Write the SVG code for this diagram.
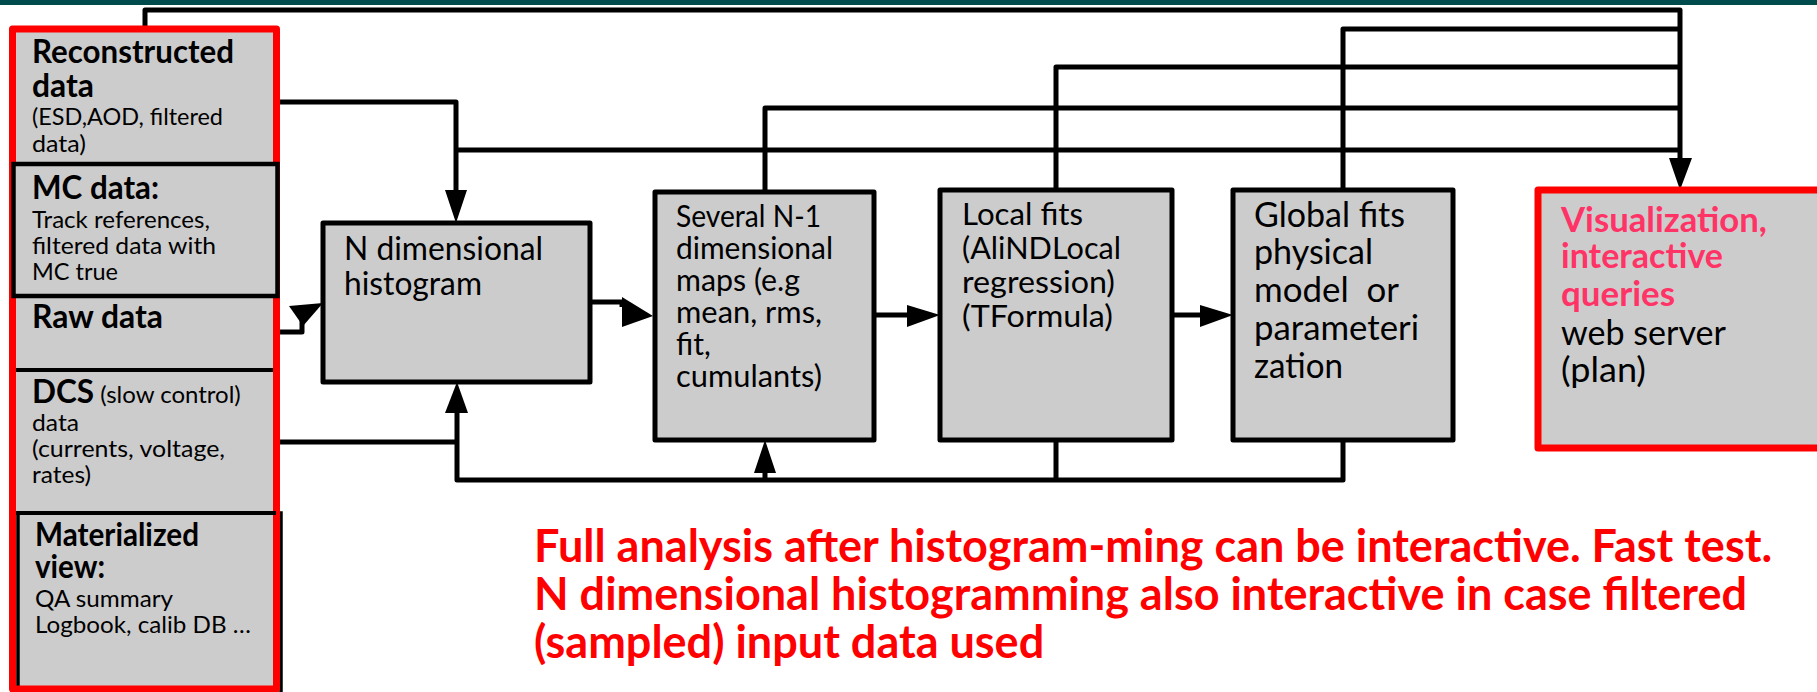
<svg xmlns="http://www.w3.org/2000/svg" width="1817" height="692" viewBox="0 0 1817 692">
<style>
text{font-family:Lato,"Open Sans","Liberation Sans",sans-serif;fill:#000}
.b{font-weight:bold}
.box{fill:#cccccc;stroke:#000;stroke-width:5;stroke-linejoin:round}
.red{fill:#cccccc;stroke:#ff0000;stroke-width:7;stroke-linejoin:round}
.ln{fill:none;stroke:#000;stroke-width:5;stroke-linejoin:round}
.ah{fill:#000;stroke:none}
.s{font-size:24px}
.m{font-size:31.5px}
.nd{font-size:32px}
.n{font-size:30px}
.lf{font-size:31px}
.g{font-size:34px}
.pink{fill:#ff3366}
.note{font-size:45px;font-weight:bold;fill:#ff0000}
</style>
<rect x="0" y="0" width="1817" height="5" fill="#004c4c"/>

<g id="connectors">
  <path class="ln" d="M145,29 V10 H1680 V162"/>
  <path class="ln" d="M1343,190 V29 H1680"/>
  <path class="ln" d="M1056,190 V67 H1680"/>
  <path class="ln" d="M765,192 V108 H1680"/>
  <path class="ln" d="M456,150 H1680"/>
  <polygon class="ah" points="1669,158 1692,158 1680,190"/>
  <path class="ln" d="M280,102 H456 V192"/>
  <polygon class="ah" points="445,190 467,190 456,223"/>
  <path class="ln" d="M280,332 H302 V320"/>
  <polygon class="ah" points="289,306 323,303 303,326"/>
  <path class="ln" d="M590,302 H622 V307"/>
  <polygon class="ah" points="622,297 653,316 622,327"/>
  <path class="ln" d="M874,315 H908"/>
  <polygon class="ah" points="907,305 940,315 907,327"/>
  <path class="ln" d="M1172,315 H1202"/>
  <polygon class="ah" points="1200,305 1233,315 1200,327"/>
  <path class="ln" d="M280,442 H457"/>
  <path class="ln" d="M457,412 V480 H1343 V440"/>
  <path class="ln" d="M1056,440 V480"/>
  <polygon class="ah" points="445,413 468,413 457,382"/>
  <path class="ln" d="M765,480 V470"/>
  <polygon class="ah" points="754,473 776,473 765,440"/>
</g>

<g id="left-column">
  <rect x="12.5" y="29" width="264" height="660" fill="#cccccc"/>
  <rect x="18" y="513" width="263" height="190" fill="none" stroke="#000" stroke-width="3.5"/>
  <rect class="red" x="12.5" y="29" width="264" height="660" style="fill:none"/>
  <g id="reconstructed">
    <text class="b m" x="32" y="63" textLength="202" lengthAdjust="spacingAndGlyphs">Reconstructed</text>
    <text class="b m" x="32" y="97" textLength="62" lengthAdjust="spacingAndGlyphs">data</text>
    <text class="s" x="32" y="125" textLength="191" lengthAdjust="spacingAndGlyphs">(ESD,AOD, filtered</text>
    <text class="s" x="32" y="152" textLength="54" lengthAdjust="spacingAndGlyphs">data)</text>
  </g>
  <g id="mc">
    <rect x="13.5" y="164" width="264" height="132" fill="#cccccc" stroke="#000" stroke-width="4.5"/>
    <text class="b m" x="32" y="199" textLength="127" lengthAdjust="spacingAndGlyphs">MC data:</text>
    <text class="s" x="32" y="228" textLength="178" lengthAdjust="spacingAndGlyphs">Track references,</text>
    <text class="s" x="32" y="254" textLength="184" lengthAdjust="spacingAndGlyphs">filtered data with</text>
    <text class="s" x="32" y="280" textLength="86" lengthAdjust="spacingAndGlyphs">MC true</text>
  </g>
  <g id="raw">
    <text class="b m" x="32" y="328" textLength="131" lengthAdjust="spacingAndGlyphs">Raw data</text>
    <line x1="16" y1="370" x2="273" y2="370" stroke="#000" stroke-width="4"/>
  </g>
  <g id="dcs">
    <text class="s" x="32" y="403"><tspan class="b m">DCS</tspan> (slow control)</text>
    <text class="s" x="32" y="431" textLength="47" lengthAdjust="spacingAndGlyphs">data</text>
    <text class="s" x="32" y="457" textLength="193" lengthAdjust="spacingAndGlyphs">(currents, voltage,</text>
    <text class="s" x="32" y="483" textLength="59" lengthAdjust="spacingAndGlyphs">rates)</text>
  </g>
  <g id="materialized">
    <line x1="16" y1="513" x2="276" y2="513" stroke="#000" stroke-width="4"/>
    <text class="b m" x="35" y="546" textLength="164" lengthAdjust="spacingAndGlyphs">Materialized</text>
    <text class="b m" x="35" y="578" textLength="70" lengthAdjust="spacingAndGlyphs">view:</text>
    <text class="s" x="35" y="607" textLength="138" lengthAdjust="spacingAndGlyphs">QA summary</text>
    <text class="s" x="35" y="633" textLength="216" lengthAdjust="spacingAndGlyphs">Logbook, calib DB …</text>
  </g>
</g>

<g id="ndim">
  <rect class="box" x="323" y="223" width="267" height="159"/>
  <text class="nd" x="344" y="260" textLength="199" lengthAdjust="spacingAndGlyphs">N dimensional</text>
  <text class="nd" x="344" y="295" textLength="138" lengthAdjust="spacingAndGlyphs">histogram</text>
</g>

<g id="maps">
  <rect class="box" x="655" y="192" width="219" height="248"/>
  <text class="n" x="676" y="227" textLength="145" lengthAdjust="spacingAndGlyphs">Several N-1</text>
  <text class="n" x="676" y="259" textLength="157" lengthAdjust="spacingAndGlyphs">dimensional</text>
  <text class="n" x="676" y="291" textLength="124" lengthAdjust="spacingAndGlyphs">maps (e.g</text>
  <text class="n" x="676" y="323" textLength="146" lengthAdjust="spacingAndGlyphs">mean, rms,</text>
  <text class="n" x="676" y="355">fit,</text>
  <text class="n" x="676" y="387" textLength="146" lengthAdjust="spacingAndGlyphs">cumulants)</text>
</g>

<g id="local">
  <rect class="box" x="940" y="190" width="232" height="250"/>
  <text class="lf" x="962" y="225" textLength="121" lengthAdjust="spacingAndGlyphs">Local fits</text>
  <text class="lf" x="962" y="259" textLength="159" lengthAdjust="spacingAndGlyphs">(AliNDLocal</text>
  <text class="lf" x="962" y="293" textLength="153" lengthAdjust="spacingAndGlyphs">regression)</text>
  <text class="lf" x="962" y="327" textLength="151" lengthAdjust="spacingAndGlyphs">(TFormula)</text>
</g>

<g id="global">
  <rect class="box" x="1233" y="190" width="220" height="250"/>
  <text class="g" x="1254" y="227" textLength="151" lengthAdjust="spacingAndGlyphs">Global fits</text>
  <text class="g" x="1254" y="264" textLength="119" lengthAdjust="spacingAndGlyphs">physical</text>
  <text class="g" x="1254" y="302" xml:space="preserve" textLength="145" lengthAdjust="spacingAndGlyphs">model  or</text>
  <text class="g" x="1254" y="340" textLength="165" lengthAdjust="spacingAndGlyphs">parameteri</text>
  <text class="g" x="1254" y="378" textLength="89" lengthAdjust="spacingAndGlyphs">zation</text>
</g>

<g id="visualization">
  <rect class="red" x="1538" y="190" width="300" height="258"/>
  <text class="g b pink" x="1561" y="232" textLength="206" lengthAdjust="spacingAndGlyphs">Visualization,</text>
  <text class="g b pink" x="1561" y="268" textLength="162" lengthAdjust="spacingAndGlyphs">interactive</text>
  <text class="g b pink" x="1561" y="306" textLength="114" lengthAdjust="spacingAndGlyphs">queries</text>
  <text class="g" x="1561" y="345" textLength="165" lengthAdjust="spacingAndGlyphs">web server</text>
  <text class="g" x="1561" y="382" textLength="85" lengthAdjust="spacingAndGlyphs">(plan)</text>
</g>

<g id="note">
  <text class="note" x="534" y="562">Full analysis after histogram-ming can be interactive. Fast test.</text>
  <text class="note" x="534" y="610">N dimensional histogramming also interactive in case filtered</text>
  <text class="note" x="534" y="658">(sampled) input data used</text>
</g>
</svg>
